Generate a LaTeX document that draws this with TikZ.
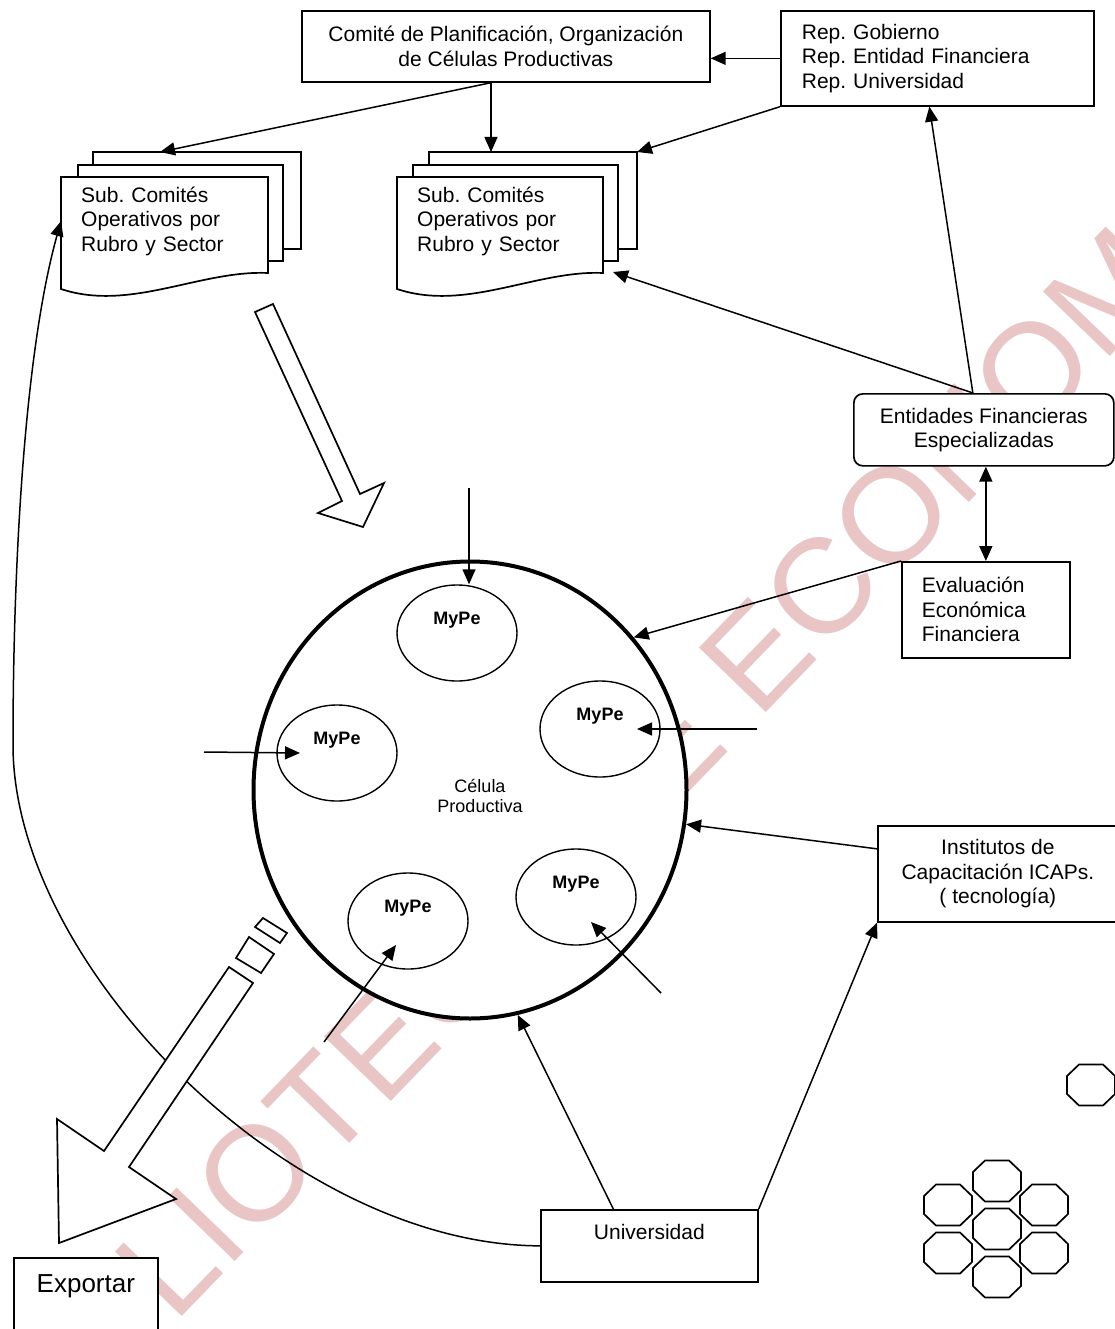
\documentclass[tikz,border=0pt]{standalone}
\usepackage{fontspec}
\setmainfont{Liberation Sans}
\usetikzlibrary{arrows.meta,shapes.geometric}
\definecolor{rosa}{RGB}{233,197,197}
\frenchspacing

\begin{document}
\begin{tikzpicture}[x=1pt,y=-1pt,
  texto/.style={font=\fontsize{21}{24.5}\selectfont},
  caja/.style={draw,line width=1.7pt,fill=white,inner sep=0pt,texto,anchor=north west},
  hoja/.style={draw,line width=1.7pt,fill=white},
  flecha/.style={line width=1.5pt,-{Triangle[length=15pt,width=13pt]}},
  hueca/.style={draw,line width=1.7pt,fill=white},
  mype/.style={ellipse,draw,line width=1.4pt,fill=white,minimum width=120pt,minimum height=96pt,
    font=\fontsize{18}{20}\selectfont\bfseries,text height=13pt,text depth=30pt},
  octo/.style={line width=1.7pt},
  sello/.style={text=rosa,font=\fontsize{135}{135}\selectfont,anchor=base west,rotate=46}]
\useasboundingbox (0,0) rectangle (1114,1329);

% sello de fondo
\node[sello] (sello) at (21,1484) {BIBLIOTECA DE ECONOMIA};

% celula productiva
\node[ellipse,draw,line width=4pt,fill=white,minimum width=433pt,minimum height=457pt] (celula) at (470,790) {};
\node[font=\fontsize{18}{20.5}\selectfont,align=center] (celtxt) at (480,796) {Célula\\Productiva};
\node[mype] (m1) at (457,633) {MyPe};
\node[mype] (m2) at (600,729) {MyPe};
\node[mype] (m3) at (337,753) {MyPe};
\node[mype] (m4) at (408,921) {MyPe};
\node[mype] (m5) at (576,897) {MyPe};

% cajas
\node[caja,minimum width=408pt,minimum height=71pt,align=center] (comite) at (301,10) {Comité de Planificación, Organización\\de Células Productivas};
\node[caja,minimum width=313pt,minimum height=95pt,text width=271pt,align=left] (rep) at (780,10) {Rep. Gobierno\\Rep. Entidad Financiera\\Rep. Universidad};
\node[caja,rounded corners=9pt,minimum width=260pt,minimum height=72pt,align=center] (fin) at (853,393) {Entidades Financieras\\Especializadas};
\node[caja,minimum width=168pt,minimum height=96pt,text width=128pt,align=left] (eval) at (901,561) {Evaluación\\Económica\\Financiera};
\node[caja,minimum width=240pt,minimum height=96pt,align=center] (icap) at (877,825) {Institutos de\\Capacitación ICAPs.\\( tecnología)};
\node[caja,minimum width=217pt,minimum height=72pt,text height=15pt,text depth=27pt] (uni) at (540,1209) {Universidad};
\node[caja,minimum width=144pt,minimum height=80pt,font=\fontsize{26}{30}\selectfont,text height=19pt,text depth=30pt] (exp) at (13,1257) {Exportar};

% sub comites (hojas apiladas)
\draw[hoja] (93,152) rectangle (301,249);
\draw[hoja] (78,165) rectangle (283,261);
\draw[hoja] (61,289) -- (61,177) -- (268,177) -- (268,273) .. controls (200,270) and (130,312) .. cycle;
\node[texto,anchor=north west,minimum width=207pt,minimum height=88pt,inner xsep=20pt,inner ysep=0pt,text width=167pt,align=left] (subA) at (61,177) {Sub. Comités\\Operativos por\\Rubro y Sector};
\draw[hoja] (429,152) rectangle (637,249);
\draw[hoja] (413,165) rectangle (618,261);
\draw[hoja] (397,289) -- (397,177) -- (603,177) -- (603,273) .. controls (536,270) and (466,312) .. cycle;
\node[texto,anchor=north west,minimum width=206pt,minimum height=88pt,inner xsep=20pt,inner ysep=0pt,text width=166pt,align=left] (subB) at (397,177) {Sub. Comités\\Operativos por\\Rubro y Sector};

\coordinate (topeA) at (160,152);
\coordinate (topeB) at (491,152);
\coordinate (esqB) at (637,152);
\coordinate (ladoB) at (613,272);

% retorno de la universidad
\draw[flecha] (uni.west) .. controls (290,1245) and (13,965) .. (13,745) .. controls (13,560) and (25,350) .. (subA.west);

% flechas huecas
\draw[hueca] (255,312) -- (273,304) -- (360,494) -- (384,483) -- (363,527) -- (318,513) -- (342,501) -- cycle;
\draw[hueca] (229,967) -- (253,983) -- (129,1167) -- (176,1199) -- (59,1243) -- (57,1119) -- (104,1151) -- cycle;
\draw[hueca] (236,958) -- (249,937) -- (274,954) -- (261,973) -- cycle;
\draw[hueca] (255,927) -- (263,918) -- (287,933) -- (280,943) -- cycle;

% conexiones
\draw[flecha] (rep.west) -- (rep.west -| comite.east);
\draw[flecha] (topeB |- comite.south) -- (topeB);
\draw[flecha] (topeB |- comite.south) -- (topeA);
\draw[flecha] (rep.south west) -- (esqB);
\draw[flecha] ([xshift=-11pt]fin.north) -- (ladoB);
\draw[flecha] ([xshift=-11pt]fin.north) -- ([xshift=-8pt]rep.south);
\draw[{Triangle[length=15pt,width=13pt]}-{Triangle[length=15pt,width=13pt]},line width=1.7pt] (eval.north |- fin.south) -- (eval.north);
\draw[flecha] (eval.north west) -- (celula.43);
\draw[flecha] ([yshift=25pt]icap.west) -- (celula.-9);
\draw[flecha] ([xshift=-36pt]uni.north) -- (celula.-78);
\draw[flecha] (uni.north east) -- (icap.south west);

% entradas a las MyPe
\coordinate (libre1) at (469,488);
\coordinate (libre2) at (757,729);
\coordinate (libre3) at (204,752);
\coordinate (libre4) at (324,1042);
\coordinate (libre5) at (661,993);
\draw[flecha] (libre1) -- (libre1 |- m1.north);
\draw[flecha] (libre2) -- ([xshift=37pt]m2.center);
\draw[flecha] (libre3) -- ([xshift=-37pt]m3.center);
\draw[flecha] (libre4) -- ([shift={(-12,24)}]m4.center);
\draw[flecha] (libre5) -- ([shift={(15,25)}]m5.center);

% octagonos
\foreach \cx/\cy in {1091/1085, 997/1181, 948/1205, 1044/1205, 997/1229, 948/1253, 1044/1253, 997/1277}
  \draw[octo] (\cx,\cy) +(-12,-20.5) -- +(12,-20.5) -- +(24,-9) -- +(24,9) -- +(12,20.5) -- +(-12,20.5) -- +(-24,9) -- +(-24,-9) -- cycle;
\end{tikzpicture}
\end{document}
